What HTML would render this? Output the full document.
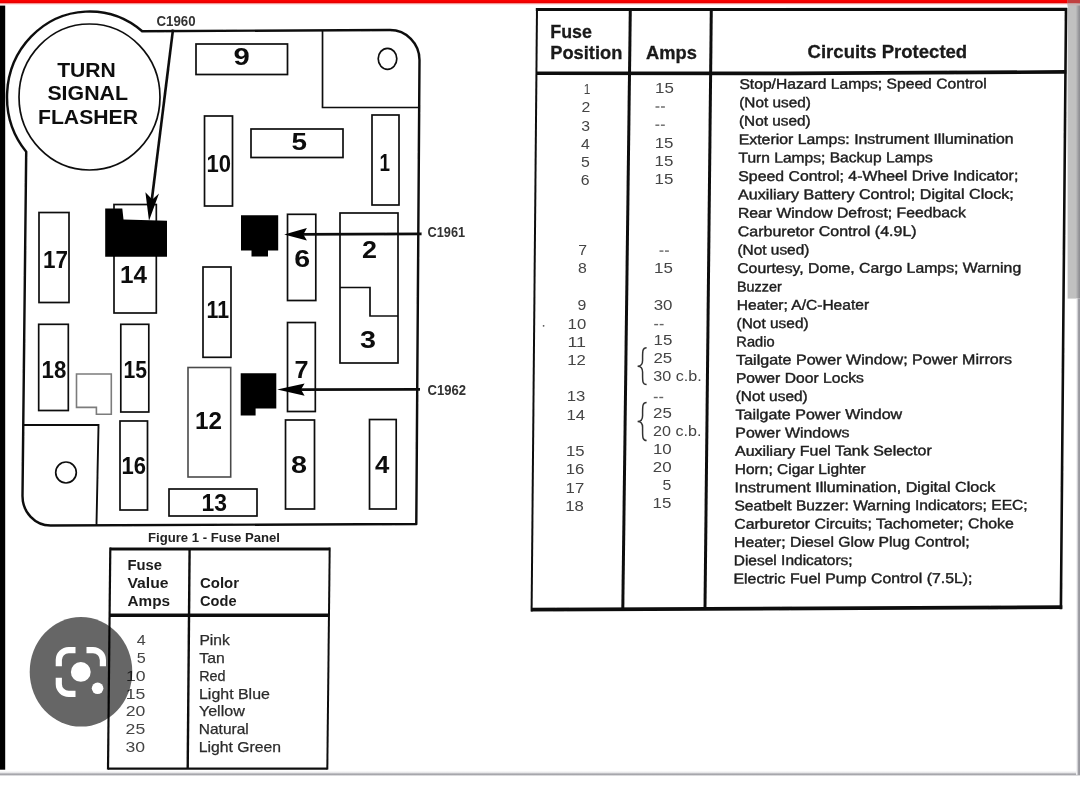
<!DOCTYPE html>
<html><head><meta charset="utf-8"><title>Fuse Panel</title>
<style>html,body{margin:0;padding:0;background:#fff;overflow:hidden}svg{display:block;font-family:"Liberation Sans",sans-serif}text{white-space:pre}</style></head><body>
<svg width="1080" height="789" viewBox="0 0 1080 789">
<rect x="0" y="0" width="1080" height="789" fill="#fff"/>
<defs><linearGradient id="gb" x1="0" y1="0" x2="0" y2="1"><stop offset="0" stop-color="#fff"/><stop offset="0.35" stop-color="#e6e6e8"/><stop offset="0.64" stop-color="#9a9aa0"/><stop offset="1" stop-color="#fff"/></linearGradient><linearGradient id="gr" x1="0" y1="0" x2="1" y2="0"><stop offset="0" stop-color="#fff"/><stop offset="0.3" stop-color="#e0e0e3"/><stop offset="0.65" stop-color="#9c9ca2"/><stop offset="1" stop-color="#97979d"/></linearGradient><linearGradient id="gs" x1="0" y1="0" x2="1" y2="0"><stop offset="0" stop-color="#c0c0c0"/><stop offset="0.66" stop-color="#c0c0c0"/><stop offset="0.88" stop-color="#9a9a9e"/><stop offset="1" stop-color="#8a8a8e"/></linearGradient><linearGradient id="grd" x1="0" y1="0" x2="0" y2="1"><stop offset="0" stop-color="#ff0000"/><stop offset="0.55" stop-color="#f00000"/><stop offset="0.85" stop-color="#dc0000"/><stop offset="1" stop-color="#e86060"/></linearGradient></defs>
<rect x="0" y="0" width="1080" height="3.7" fill="url(#grd)"/>
<rect x="0" y="3.7" width="1080" height="1" fill="#ffd9d9"/>
<rect x="0" y="5.6" width="5.2" height="764.1" fill="#000"/>
<rect x="1067.6" y="0" width="12.4" height="298.6" fill="url(#gs)"/>
<rect x="1067.6" y="0" width="12.4" height="3.5" fill="#c04040"/>
<rect x="1067.6" y="3.5" width="12.4" height="2" fill="#c8b4b4"/>
<rect x="0" y="770.8" width="1080" height="5.4" fill="url(#gb)"/>
<rect x="1076" y="298.6" width="4" height="476.2" fill="url(#gr)"/>
<defs><filter id="soft" x="0" y="0" width="1080" height="789" filterUnits="userSpaceOnUse"><feGaussianBlur stdDeviation="0.72"/></filter></defs>
<g filter="url(#soft)">
<path d="M26.20 151.83 A82.5 85.5 0 0 1 142.18 31.20 L390 30 A29.5 30 0 0 1 419.5 60 L416.3 524 L50.5 525.5 A28 29.5 0 0 1 22.5 496 Z" fill="none" stroke="#111" stroke-width="2.45" stroke-linejoin="round"/>
<ellipse cx="89.5" cy="97" rx="70.5" ry="73" fill="none" stroke="#111" stroke-width="1.7"/>
<path d="M322.5 31 L322.5 107.5 L419 107.5" fill="none" stroke="#111" stroke-width="1.7"/>
<ellipse cx="387.5" cy="58.8" rx="9.3" ry="10.5" fill="none" stroke="#111" stroke-width="1.7"/>
<path d="M23.5 425 L98.5 425 L96.5 525" fill="none" stroke="#111" stroke-width="1.9"/>
<ellipse cx="66" cy="472.5" rx="10.3" ry="10.5" fill="none" stroke="#111" stroke-width="1.7"/>
<rect x="196.0" y="44.0" width="91.5" height="30.5" fill="none" stroke="#111" stroke-width="1.7"/>
<rect x="251.0" y="129.0" width="92.0" height="28.5" fill="none" stroke="#111" stroke-width="1.7"/>
<rect x="204.5" y="116.0" width="28.0" height="90.0" fill="none" stroke="#111" stroke-width="1.7"/>
<rect x="372.0" y="115.0" width="27.0" height="90.0" fill="none" stroke="#111" stroke-width="1.7"/>
<rect x="39.0" y="212.5" width="30.0" height="90.0" fill="none" stroke="#111" stroke-width="1.7"/>
<rect x="114.0" y="204.5" width="42.3" height="108.5" fill="none" stroke="#111" stroke-width="1.7"/>
<rect x="287.5" y="214.3" width="28.3" height="86.2" fill="none" stroke="#111" stroke-width="1.7"/>
<rect x="203.0" y="267.0" width="28.0" height="90.3" fill="none" stroke="#111" stroke-width="1.7"/>
<rect x="38.7" y="324.3" width="29.6" height="86.2" fill="none" stroke="#111" stroke-width="1.7"/>
<rect x="120.8" y="324.3" width="28.0" height="87.7" fill="none" stroke="#111" stroke-width="1.7"/>
<rect x="287.5" y="322.5" width="27.8" height="89.0" fill="none" stroke="#111" stroke-width="1.7"/>
<rect x="188.0" y="367.5" width="42.7" height="109.5" fill="none" stroke="#4a4a4a" stroke-width="1.6"/>
<rect x="120.0" y="421.0" width="27.5" height="89.0" fill="none" stroke="#111" stroke-width="1.7"/>
<rect x="285.5" y="420.0" width="29.0" height="89.0" fill="none" stroke="#111" stroke-width="1.7"/>
<rect x="369.5" y="419.5" width="26.7" height="89.5" fill="none" stroke="#111" stroke-width="1.7"/>
<rect x="169.0" y="489.0" width="88.0" height="27.0" fill="none" stroke="#111" stroke-width="1.7"/>
<rect x="340.0" y="213.0" width="58.0" height="150.0" fill="none" stroke="#111" stroke-width="1.7"/>
<path d="M340 287.5 L370 287.5 L370 316 L398 316" fill="none" stroke="#111" stroke-width="1.7"/>
<path d="M76.5 374 L111.3 374 L111.3 414.2 L96.4 414.2 L96.4 407.4 L76.5 407.4 Z" fill="none" stroke="#7c7c7c" stroke-width="1.6"/>
<path d="M105.2 208.5 L122.3 208.5 L123.5 219.5 L167 220.7 L167 256.8 L105.2 256.8 Z" fill="#000"/>
<path d="M241 215.3 L278.2 215.3 L278.2 250.5 L268 250.5 L268 256.5 L251.5 256.5 L251.5 250.5 L241 250.5 Z" fill="#000"/>
<path d="M240.7 373.3 L276.3 373.3 L276.3 408.5 L255.6 408.5 L255.6 415.4 L240.7 415.4 Z" fill="#000"/>
<line x1="173.0" y1="29.5" x2="150.3" y2="212.0" stroke="#111" stroke-width="2.6"/>
<path d="M149 220.7 L145.4 192.2 L152.3 199.5 L159 193.4 Z" fill="#000"/>
<line x1="421.6" y1="233.9" x2="300.0" y2="234.4" stroke="#111" stroke-width="2.8"/>
<path d="M284.2 234.4 L306.9 228 L303.4 234.4 L306.9 240.6 Z" fill="#000"/>
<line x1="420.0" y1="389.4" x2="295.0" y2="389.6" stroke="#111" stroke-width="2.8"/>
<path d="M277.2 389.6 L304.6 383.6 L301 389.6 L304.6 395.8 Z" fill="#000"/>
<text x="156.5" y="26.2" font-size="14.2" font-weight="bold" textLength="39.0" lengthAdjust="spacingAndGlyphs" fill="#333">C1960</text>
<text x="427.6" y="237.2" font-size="14.4" font-weight="bold" textLength="37.5" lengthAdjust="spacingAndGlyphs" fill="#333">C1961</text>
<text x="427.5" y="394.9" font-size="14.6" font-weight="bold" textLength="38.5" lengthAdjust="spacingAndGlyphs" fill="#333">C1962</text>
<text x="57.2" y="76.9" font-size="20.8" font-weight="bold" textLength="58.6" lengthAdjust="spacingAndGlyphs" fill="#111">TURN</text>
<text x="47.4" y="100.4" font-size="20.8" font-weight="bold" textLength="80.6" lengthAdjust="spacingAndGlyphs" fill="#111">SIGNAL</text>
<text x="38.0" y="124.1" font-size="20.8" font-weight="bold" textLength="100.0" lengthAdjust="spacingAndGlyphs" fill="#111">FLASHER</text>
<text x="233.5" y="64.5" font-size="23" font-weight="bold" textLength="16.3" lengthAdjust="spacingAndGlyphs" fill="#111">9</text>
<text x="291.5" y="149.5" font-size="23" font-weight="bold" textLength="15.5" lengthAdjust="spacingAndGlyphs" fill="#111">5</text>
<text x="206.5" y="172.3" font-size="23" font-weight="bold" textLength="24.5" lengthAdjust="spacingAndGlyphs" fill="#111">10</text>
<text x="379.5" y="171.0" font-size="23" font-weight="bold" textLength="10.5" lengthAdjust="spacingAndGlyphs" fill="#111">1</text>
<text x="43.0" y="267.5" font-size="23" font-weight="bold" textLength="25.0" lengthAdjust="spacingAndGlyphs" fill="#111">17</text>
<text x="120.0" y="283.0" font-size="23" font-weight="bold" textLength="27.0" lengthAdjust="spacingAndGlyphs" fill="#111">14</text>
<text x="294.3" y="266.5" font-size="23" font-weight="bold" textLength="15.9" lengthAdjust="spacingAndGlyphs" fill="#111">6</text>
<text x="362.0" y="257.5" font-size="23" font-weight="bold" textLength="15.0" lengthAdjust="spacingAndGlyphs" fill="#111">2</text>
<text x="360.0" y="347.5" font-size="23" font-weight="bold" textLength="16.0" lengthAdjust="spacingAndGlyphs" fill="#111">3</text>
<text x="206.5" y="317.5" font-size="23" font-weight="bold" textLength="22.5" lengthAdjust="spacingAndGlyphs" fill="#111">11</text>
<text x="41.5" y="378.0" font-size="23" font-weight="bold" textLength="24.8" lengthAdjust="spacingAndGlyphs" fill="#111">18</text>
<text x="123.5" y="378.0" font-size="23" font-weight="bold" textLength="23.5" lengthAdjust="spacingAndGlyphs" fill="#111">15</text>
<text x="294.5" y="378.0" font-size="23" font-weight="bold" textLength="14.0" lengthAdjust="spacingAndGlyphs" fill="#111">7</text>
<text x="195.0" y="429.0" font-size="23" font-weight="bold" textLength="27.0" lengthAdjust="spacingAndGlyphs" fill="#111">12</text>
<text x="121.5" y="473.5" font-size="23" font-weight="bold" textLength="24.5" lengthAdjust="spacingAndGlyphs" fill="#111">16</text>
<text x="291.0" y="472.5" font-size="23" font-weight="bold" textLength="16.0" lengthAdjust="spacingAndGlyphs" fill="#111">8</text>
<text x="375.0" y="472.5" font-size="23" font-weight="bold" textLength="14.3" lengthAdjust="spacingAndGlyphs" fill="#111">4</text>
<text x="201.5" y="511.0" font-size="23" font-weight="bold" textLength="25.5" lengthAdjust="spacingAndGlyphs" fill="#111">13</text>
<text x="148.0" y="542.3" font-size="12.5" font-weight="bold" textLength="132.0" lengthAdjust="spacingAndGlyphs" fill="#222">Figure 1 - Fuse Panel</text>
<line x1="110.0" y1="549.0" x2="329.7" y2="549.0" stroke="#111" stroke-width="3.2"/>
<line x1="109.3" y1="615.3" x2="328.6" y2="615.3" stroke="#111" stroke-width="3.6"/>
<line x1="107.8" y1="768.6" x2="327.5" y2="768.6" stroke="#111" stroke-width="2.2"/>
<line x1="110.3" y1="547.5" x2="108.0" y2="769.6" stroke="#111" stroke-width="2.2"/>
<line x1="189.6" y1="549.0" x2="187.7" y2="768.6" stroke="#111" stroke-width="2.4"/>
<line x1="329.7" y1="547.5" x2="327.3" y2="769.6" stroke="#111" stroke-width="2"/>
<text x="127.5" y="570.0" font-size="14" font-weight="bold" textLength="34.5" lengthAdjust="spacingAndGlyphs" fill="#1a1a1a">Fuse</text>
<text x="127.5" y="588.0" font-size="14" font-weight="bold" textLength="41.0" lengthAdjust="spacingAndGlyphs" fill="#1a1a1a">Value</text>
<text x="127.5" y="606.0" font-size="14" font-weight="bold" textLength="42.5" lengthAdjust="spacingAndGlyphs" fill="#1a1a1a">Amps</text>
<text x="200.0" y="588.0" font-size="14" font-weight="bold" textLength="39.0" lengthAdjust="spacingAndGlyphs" fill="#1a1a1a">Color</text>
<text x="200.0" y="606.0" font-size="14" font-weight="bold" textLength="36.5" lengthAdjust="spacingAndGlyphs" fill="#1a1a1a">Code</text>
<text x="136.8" y="644.8" font-size="14.8" textLength="9.0" lengthAdjust="spacingAndGlyphs" fill="#444">4</text>
<text x="199.4" y="644.8" font-size="14.3" textLength="30.4" lengthAdjust="spacingAndGlyphs" fill="#2c2c2c" stroke="#2c2c2c" stroke-width="0.25">Pink</text>
<text x="136.7" y="662.7" font-size="14.8" textLength="9.0" lengthAdjust="spacingAndGlyphs" fill="#444">5</text>
<text x="199.3" y="662.7" font-size="14.3" textLength="25.4" lengthAdjust="spacingAndGlyphs" fill="#2c2c2c" stroke="#2c2c2c" stroke-width="0.25">Tan</text>
<text x="126.0" y="680.6" font-size="14.8" textLength="19.6" lengthAdjust="spacingAndGlyphs" fill="#444">10</text>
<text x="199.2" y="680.6" font-size="14.3" textLength="26.4" lengthAdjust="spacingAndGlyphs" fill="#2c2c2c" stroke="#2c2c2c" stroke-width="0.25">Red</text>
<text x="125.8" y="698.5" font-size="14.8" textLength="19.6" lengthAdjust="spacingAndGlyphs" fill="#444">15</text>
<text x="199.0" y="698.5" font-size="14.3" textLength="70.9" lengthAdjust="spacingAndGlyphs" fill="#2c2c2c" stroke="#2c2c2c" stroke-width="0.25">Light Blue</text>
<text x="125.7" y="716.4" font-size="14.8" textLength="19.6" lengthAdjust="spacingAndGlyphs" fill="#444">20</text>
<text x="198.9" y="716.4" font-size="14.3" textLength="45.9" lengthAdjust="spacingAndGlyphs" fill="#2c2c2c" stroke="#2c2c2c" stroke-width="0.25">Yellow</text>
<text x="125.6" y="734.3" font-size="14.8" textLength="19.6" lengthAdjust="spacingAndGlyphs" fill="#444">25</text>
<text x="198.8" y="734.3" font-size="14.3" textLength="49.9" lengthAdjust="spacingAndGlyphs" fill="#2c2c2c" stroke="#2c2c2c" stroke-width="0.25">Natural</text>
<text x="125.5" y="752.2" font-size="14.8" textLength="19.6" lengthAdjust="spacingAndGlyphs" fill="#444">30</text>
<text x="198.7" y="752.2" font-size="14.3" textLength="82.4" lengthAdjust="spacingAndGlyphs" fill="#2c2c2c" stroke="#2c2c2c" stroke-width="0.25">Light Green</text>
</g>
<ellipse cx="81" cy="671.8" rx="51.3" ry="54.8" fill="rgba(0,0,0,0.6)"/>
<g fill="none" stroke="#fff" stroke-width="6.2">
<path d="M58.8 666.3 L58.8 660 A9.9 9.9 0 0 1 68.7 650.1 L75.5 650.1"/>
<path d="M86.5 650.1 L93 650.1 A9.9 9.9 0 0 1 102.9 660 L102.9 666.3"/>
<path d="M58.8 677.7 L58.8 684 A9.9 9.9 0 0 0 68.7 693.9 L75.5 693.9"/>
</g>
<circle cx="80.8" cy="671.9" r="9.9" fill="#fff"/>
<circle cx="97.6" cy="688.3" r="5.8" fill="#fff"/>
<g filter="url(#soft)">
<line x1="535.8" y1="9.5" x2="1067.0" y2="9.4" stroke="#111" stroke-width="3.1"/>
<path d="M536.2 73.3 L790 73.4 L1066.3 71.9" fill="none" stroke="#111" stroke-width="3.6"/>
<line x1="531.2" y1="609.6" x2="1062.3" y2="607.2" stroke="#111" stroke-width="3.8"/>
<line x1="537.0" y1="8.3" x2="531.6" y2="611.4" stroke="#111" stroke-width="2.0"/>
<line x1="630.3" y1="10.0" x2="622.8" y2="609.0" stroke="#111" stroke-width="3"/>
<line x1="711.3" y1="10.0" x2="705.0" y2="608.5" stroke="#111" stroke-width="3"/>
<path d="M1066.0 8 L1063.6 290 L1060.9 609.3" fill="none" stroke="#111" stroke-width="2.6"/>
<text x="550.3" y="37.7" font-size="18" font-weight="bold" textLength="41.6" lengthAdjust="spacingAndGlyphs" fill="#1a1a1a" stroke="#1a1a1a" stroke-width="0.3">Fuse</text>
<text x="550.3" y="58.5" font-size="18" font-weight="bold" textLength="72.0" lengthAdjust="spacingAndGlyphs" fill="#1a1a1a" stroke="#1a1a1a" stroke-width="0.3">Position</text>
<text x="646.0" y="58.7" font-size="18" font-weight="bold" textLength="50.8" lengthAdjust="spacingAndGlyphs" fill="#1a1a1a" stroke="#1a1a1a" stroke-width="0.3">Amps</text>
<text x="807.6" y="57.6" font-size="18" font-weight="bold" textLength="159.6" lengthAdjust="spacingAndGlyphs" fill="#1a1a1a" stroke="#1a1a1a" stroke-width="0.3">Circuits Protected</text>
<text x="739.4" y="88.9" font-size="14.2" textLength="247.3" lengthAdjust="spacingAndGlyphs" fill="#1c1c1c" stroke="#1c1c1c" stroke-width="0.4" transform="rotate(-0.14 739.4 88.9)">Stop/Hazard Lamps; Speed Control</text>
<text x="739.2" y="107.3" font-size="14.2" textLength="71.7" lengthAdjust="spacingAndGlyphs" fill="#1c1c1c" stroke="#1c1c1c" stroke-width="0.4" transform="rotate(-0.14 739.2 107.3)">(Not used)</text>
<text x="739.0" y="125.7" font-size="14.2" textLength="71.7" lengthAdjust="spacingAndGlyphs" fill="#1c1c1c" stroke="#1c1c1c" stroke-width="0.4" transform="rotate(-0.14 739.0 125.7)">(Not used)</text>
<text x="738.7" y="144.2" font-size="14.2" textLength="275.0" lengthAdjust="spacingAndGlyphs" fill="#1c1c1c" stroke="#1c1c1c" stroke-width="0.4" transform="rotate(-0.14 738.7 144.2)">Exterior Lamps: Instrument Illumination</text>
<text x="738.5" y="162.6" font-size="14.2" textLength="194.3" lengthAdjust="spacingAndGlyphs" fill="#1c1c1c" stroke="#1c1c1c" stroke-width="0.4" transform="rotate(-0.14 738.5 162.6)">Turn Lamps; Backup Lamps</text>
<text x="738.3" y="181.0" font-size="14.2" textLength="280.0" lengthAdjust="spacingAndGlyphs" fill="#1c1c1c" stroke="#1c1c1c" stroke-width="0.4" transform="rotate(-0.14 738.3 181.0)">Speed Control; 4-Wheel Drive Indicator;</text>
<text x="738.1" y="199.4" font-size="14.2" textLength="275.7" lengthAdjust="spacingAndGlyphs" fill="#1c1c1c" stroke="#1c1c1c" stroke-width="0.4" transform="rotate(-0.14 738.1 199.4)">Auxiliary Battery Control; Digital Clock;</text>
<text x="737.9" y="217.8" font-size="14.2" textLength="228.0" lengthAdjust="spacingAndGlyphs" fill="#1c1c1c" stroke="#1c1c1c" stroke-width="0.4" transform="rotate(-0.14 737.9 217.8)">Rear Window Defrost; Feedback</text>
<text x="737.7" y="236.3" font-size="14.2" textLength="179.0" lengthAdjust="spacingAndGlyphs" fill="#1c1c1c" stroke="#1c1c1c" stroke-width="0.4" transform="rotate(-0.14 737.7 236.3)">Carburetor Control (4.9L)</text>
<text x="737.4" y="254.7" font-size="14.2" textLength="72.0" lengthAdjust="spacingAndGlyphs" fill="#1c1c1c" stroke="#1c1c1c" stroke-width="0.4" transform="rotate(-0.14 737.4 254.7)">(Not used)</text>
<text x="737.2" y="273.1" font-size="14.2" textLength="284.0" lengthAdjust="spacingAndGlyphs" fill="#1c1c1c" stroke="#1c1c1c" stroke-width="0.4" transform="rotate(-0.14 737.2 273.1)">Courtesy, Dome, Cargo Lamps; Warning</text>
<text x="737.0" y="291.5" font-size="14.2" textLength="44.7" lengthAdjust="spacingAndGlyphs" fill="#1c1c1c" stroke="#1c1c1c" stroke-width="0.4" transform="rotate(-0.14 737.0 291.5)">Buzzer</text>
<text x="736.8" y="309.9" font-size="14.2" textLength="132.3" lengthAdjust="spacingAndGlyphs" fill="#1c1c1c" stroke="#1c1c1c" stroke-width="0.4" transform="rotate(-0.14 736.8 309.9)">Heater; A/C-Heater</text>
<text x="736.6" y="328.2" font-size="14.2" textLength="72.0" lengthAdjust="spacingAndGlyphs" fill="#1c1c1c" stroke="#1c1c1c" stroke-width="0.4" transform="rotate(-0.14 736.6 328.2)">(Not used)</text>
<text x="736.3" y="346.5" font-size="14.2" textLength="38.3" lengthAdjust="spacingAndGlyphs" fill="#1c1c1c" stroke="#1c1c1c" stroke-width="0.4" transform="rotate(-0.14 736.3 346.5)">Radio</text>
<text x="736.1" y="364.7" font-size="14.2" textLength="276.0" lengthAdjust="spacingAndGlyphs" fill="#1c1c1c" stroke="#1c1c1c" stroke-width="0.4" transform="rotate(-0.14 736.1 364.7)">Tailgate Power Window; Power Mirrors</text>
<text x="735.9" y="382.9" font-size="14.2" textLength="128.0" lengthAdjust="spacingAndGlyphs" fill="#1c1c1c" stroke="#1c1c1c" stroke-width="0.4" transform="rotate(-0.14 735.9 382.9)">Power Door Locks</text>
<text x="735.7" y="401.1" font-size="14.2" textLength="72.0" lengthAdjust="spacingAndGlyphs" fill="#1c1c1c" stroke="#1c1c1c" stroke-width="0.4" transform="rotate(-0.14 735.7 401.1)">(Not used)</text>
<text x="735.5" y="419.4" font-size="14.2" textLength="166.7" lengthAdjust="spacingAndGlyphs" fill="#1c1c1c" stroke="#1c1c1c" stroke-width="0.4" transform="rotate(-0.14 735.5 419.4)">Tailgate Power Window</text>
<text x="735.3" y="437.6" font-size="14.2" textLength="114.3" lengthAdjust="spacingAndGlyphs" fill="#1c1c1c" stroke="#1c1c1c" stroke-width="0.4" transform="rotate(-0.14 735.3 437.6)">Power Windows</text>
<text x="735.0" y="455.8" font-size="14.2" textLength="196.7" lengthAdjust="spacingAndGlyphs" fill="#1c1c1c" stroke="#1c1c1c" stroke-width="0.4" transform="rotate(-0.14 735.0 455.8)">Auxiliary Fuel Tank Selector</text>
<text x="734.8" y="474.1" font-size="14.2" textLength="131.0" lengthAdjust="spacingAndGlyphs" fill="#1c1c1c" stroke="#1c1c1c" stroke-width="0.4" transform="rotate(-0.14 734.8 474.1)">Horn; Cigar Lighter</text>
<text x="734.6" y="492.3" font-size="14.2" textLength="260.7" lengthAdjust="spacingAndGlyphs" fill="#1c1c1c" stroke="#1c1c1c" stroke-width="0.4" transform="rotate(-0.14 734.6 492.3)">Instrument Illumination, Digital Clock</text>
<text x="734.4" y="510.5" font-size="14.2" textLength="293.3" lengthAdjust="spacingAndGlyphs" fill="#1c1c1c" stroke="#1c1c1c" stroke-width="0.4" transform="rotate(-0.14 734.4 510.5)">Seatbelt Buzzer: Warning Indicators; EEC;</text>
<text x="734.2" y="528.8" font-size="14.2" textLength="279.7" lengthAdjust="spacingAndGlyphs" fill="#1c1c1c" stroke="#1c1c1c" stroke-width="0.4" transform="rotate(-0.14 734.2 528.8)">Carburetor Circuits; Tachometer; Choke</text>
<text x="734.0" y="547.0" font-size="14.2" textLength="235.7" lengthAdjust="spacingAndGlyphs" fill="#1c1c1c" stroke="#1c1c1c" stroke-width="0.4" transform="rotate(-0.14 734.0 547.0)">Heater; Diesel Glow Plug Control;</text>
<text x="733.7" y="565.2" font-size="14.2" textLength="119.0" lengthAdjust="spacingAndGlyphs" fill="#1c1c1c" stroke="#1c1c1c" stroke-width="0.4" transform="rotate(-0.14 733.7 565.2)">Diesel Indicators;</text>
<text x="733.5" y="583.5" font-size="14.2" textLength="239.0" lengthAdjust="spacingAndGlyphs" fill="#1c1c1c" stroke="#1c1c1c" stroke-width="0.4" transform="rotate(-0.14 733.5 583.5)">Electric Fuel Pump Control (7.5L);</text>
<text x="583.8" y="94.1" font-size="15.2" textLength="6.6" lengthAdjust="spacingAndGlyphs" fill="#444">1</text>
<text x="581.4" y="112.3" font-size="15.2" textLength="8.8" lengthAdjust="spacingAndGlyphs" fill="#444">2</text>
<text x="581.2" y="130.6" font-size="15.2" textLength="8.8" lengthAdjust="spacingAndGlyphs" fill="#444">3</text>
<text x="581.0" y="148.8" font-size="15.2" textLength="8.8" lengthAdjust="spacingAndGlyphs" fill="#444">4</text>
<text x="580.9" y="167.1" font-size="15.2" textLength="8.8" lengthAdjust="spacingAndGlyphs" fill="#444">5</text>
<text x="580.7" y="185.3" font-size="15.2" textLength="8.8" lengthAdjust="spacingAndGlyphs" fill="#444">6</text>
<text x="578.3" y="255.1" font-size="15.2" textLength="8.8" lengthAdjust="spacingAndGlyphs" fill="#444">7</text>
<text x="578.1" y="273.4" font-size="15.2" textLength="8.8" lengthAdjust="spacingAndGlyphs" fill="#444">8</text>
<text x="577.6" y="310.2" font-size="15.2" textLength="8.8" lengthAdjust="spacingAndGlyphs" fill="#444">9</text>
<text x="567.6" y="328.5" font-size="15.2" textLength="18.6" lengthAdjust="spacingAndGlyphs" fill="#444">10</text>
<text x="567.4" y="346.6" font-size="15.2" textLength="18.6" lengthAdjust="spacingAndGlyphs" fill="#444">11</text>
<text x="567.2" y="364.8" font-size="15.2" textLength="18.6" lengthAdjust="spacingAndGlyphs" fill="#444">12</text>
<text x="566.7" y="401.4" font-size="15.2" textLength="18.6" lengthAdjust="spacingAndGlyphs" fill="#444">13</text>
<text x="566.5" y="419.9" font-size="15.2" textLength="18.6" lengthAdjust="spacingAndGlyphs" fill="#444">14</text>
<text x="566.0" y="456.0" font-size="15.2" textLength="18.6" lengthAdjust="spacingAndGlyphs" fill="#444">15</text>
<text x="565.8" y="474.4" font-size="15.2" textLength="18.6" lengthAdjust="spacingAndGlyphs" fill="#444">16</text>
<text x="565.6" y="492.5" font-size="15.2" textLength="18.6" lengthAdjust="spacingAndGlyphs" fill="#444">17</text>
<text x="565.3" y="510.7" font-size="15.2" textLength="18.6" lengthAdjust="spacingAndGlyphs" fill="#444">18</text>
<text x="655.0" y="93.3" font-size="15.2" textLength="18.8" lengthAdjust="spacingAndGlyphs" fill="#444">15</text>
<rect x="655.5" y="106.3" width="3.9" height="1.4" fill="#666"/>
<rect x="661.0" y="106.3" width="3.9" height="1.4" fill="#666"/>
<rect x="655.4" y="124.5" width="3.9" height="1.4" fill="#666"/>
<rect x="660.9" y="124.5" width="3.9" height="1.4" fill="#666"/>
<text x="654.7" y="147.9" font-size="15.2" textLength="18.8" lengthAdjust="spacingAndGlyphs" fill="#444">15</text>
<text x="654.6" y="166.1" font-size="15.2" textLength="18.8" lengthAdjust="spacingAndGlyphs" fill="#444">15</text>
<text x="654.5" y="184.3" font-size="15.2" textLength="18.8" lengthAdjust="spacingAndGlyphs" fill="#444">15</text>
<rect x="659.5" y="250.4" width="3.9" height="1.4" fill="#666"/>
<rect x="665.0" y="250.4" width="3.9" height="1.4" fill="#666"/>
<text x="654.0" y="272.9" font-size="15.2" textLength="18.8" lengthAdjust="spacingAndGlyphs" fill="#444">15</text>
<text x="653.7" y="309.6" font-size="15.2" textLength="18.8" lengthAdjust="spacingAndGlyphs" fill="#444">30</text>
<rect x="654.2" y="323.9" width="3.9" height="1.4" fill="#666"/>
<rect x="659.7" y="323.9" width="3.9" height="1.4" fill="#666"/>
<text x="653.5" y="345.0" font-size="15.2" textLength="18.8" lengthAdjust="spacingAndGlyphs" fill="#444">15</text>
<text x="653.4" y="363.1" font-size="15.2" textLength="18.8" lengthAdjust="spacingAndGlyphs" fill="#444">25</text>
<text x="653.3" y="381.3" font-size="15.2" textLength="48.4" lengthAdjust="spacingAndGlyphs" fill="#444">30 c.b.</text>
<rect x="653.8" y="396.8" width="3.9" height="1.4" fill="#666"/>
<rect x="659.3" y="396.8" width="3.9" height="1.4" fill="#666"/>
<text x="653.1" y="418.2" font-size="15.2" textLength="18.8" lengthAdjust="spacingAndGlyphs" fill="#444">25</text>
<text x="653.0" y="435.8" font-size="15.2" textLength="48.4" lengthAdjust="spacingAndGlyphs" fill="#444">20 c.b.</text>
<text x="652.9" y="453.6" font-size="15.2" textLength="18.8" lengthAdjust="spacingAndGlyphs" fill="#444">10</text>
<text x="652.8" y="471.9" font-size="15.2" textLength="18.8" lengthAdjust="spacingAndGlyphs" fill="#444">20</text>
<text x="662.6" y="490.1" font-size="15.2" textLength="8.8" lengthAdjust="spacingAndGlyphs" fill="#444">5</text>
<text x="652.6" y="507.5" font-size="15.2" textLength="18.8" lengthAdjust="spacingAndGlyphs" fill="#444">15</text>
<path d="M646.6 347.8 C642.1 347.8 642.6 351.8 642.6 360.2 C642.6 364.2 640.6 366.2 637.6 366.2 C640.6 366.2 642.6 368.2 642.6 372.2 C642.6 380.6 642.1 384.6 646.6 384.6" fill="none" stroke="#333" stroke-width="1.5"/>
<path d="M646.6 402.6 C642.1 402.6 642.6 406.6 642.6 415.6 C642.6 419.6 640.6 421.6 637.6 421.6 C640.6 421.6 642.6 423.6 642.6 427.6 C642.6 436.6 642.1 440.6 646.6 440.6" fill="none" stroke="#333" stroke-width="1.5"/>
<circle cx="543.6" cy="325.8" r="0.9" fill="#555"/>
</g>
</svg></body></html>
